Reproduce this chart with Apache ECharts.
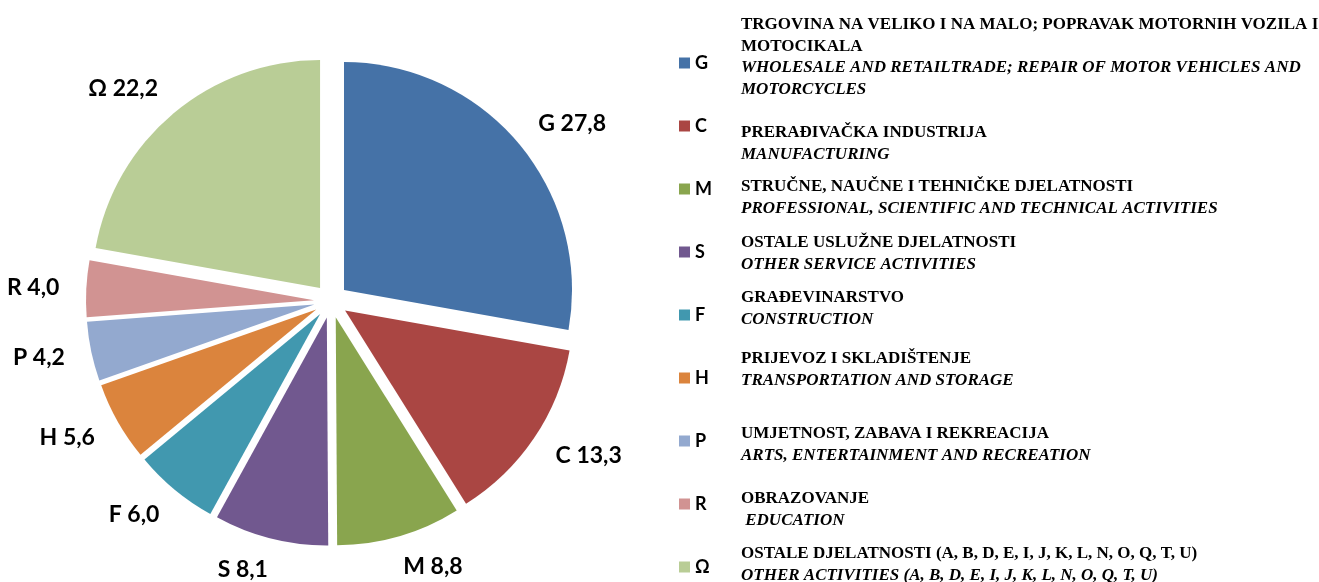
<!DOCTYPE html>
<html>
<head>
<meta charset="utf-8">
<script src="https://cdn.jsdelivr.net/npm/echarts@6/dist/echarts.min.js"></script>
<style>
  html, body { margin: 0; padding: 0; background: #fff; }
  #chart { width: 1319px; height: 582px; }
</style>
</head>
<body>
<div id="chart"></div>
<script>
  // djelatnosti (sifra) i udio u %
  var codes = ['G', 'C', 'M', 'S', 'F', 'H', 'P', 'R', 'Ω'];
  var values = [27.8, 13.3, 8.8, 8.1, 6.0, 5.6, 4.2, 4.0, 22.2];
  var colors = ['#4572A7', '#AA4643', '#89A54E', '#71588F', '#4198AF', '#DB843D', '#93A9CF', '#D19392', '#B9CD96'];
  var namesLocal = [
    'TRGOVINA NA VELIKO I NA MALO; POPRAVAK MOTORNIH VOZILA I\nMOTOCIKALA',
    'PRERAĐIVAČKA INDUSTRIJA',
    'STRUČNE, NAUČNE I TEHNIČKE DJELATNOSTI',
    'OSTALE USLUŽNE DJELATNOSTI',
    'GRAĐEVINARSTVO',
    'PRIJEVOZ I SKLADIŠTENJE',
    'UMJETNOST, ZABAVA I REKREACIJA',
    'OBRAZOVANJE',
    'OSTALE DJELATNOSTI (A, B, D, E, I, J, K, L, N, O, Q, T, U)'
  ];
  var namesEn = [
    'WHOLESALE AND RETAILTRADE; REPAIR OF MOTOR VEHICLES AND\nMOTORCYCLES',
    'MANUFACTURING',
    'PROFESSIONAL, SCIENTIFIC AND TECHNICAL ACTIVITIES',
    'OTHER SERVICE ACTIVITIES',
    'CONSTRUCTION',
    'TRANSPORTATION AND STORAGE',
    'ARTS, ENTERTAINMENT AND RECREATION',
    ' EDUCATION',
    'OTHER ACTIVITIES (A, B, D, E, I, J, K, L, N, O, Q, T, U)'
  ];
  var descTop = [16, 124, 178, 234, 289, 350, 425, 490, 545];

  var chart = echarts.init(document.getElementById('chart'));

  var pieData = codes.map(function (c, i) {
    return {name: c, value: values[i], selected: true, itemStyle: {color: colors[i]}};
  });

  function fmt(p) {
    return p.name + ' ' + p.value.toFixed(1).replace('.', ',');
  }

  var graphics = [];
  codes.forEach(function (c, i) {
    var loc = namesLocal[i].split('\n').map(function (s) { return '{a|' + s + '}'; });
    var en = namesEn[i].split('\n').map(function (s) { return '{b|' + s + '}'; });
    graphics.push({
      type: 'text',
      left: 741,
      top: descTop[i],
      silent: true,
      style: {
        text: loc.concat(en).join('\n'),
        fill: '#000',
        rich: {
          a: {fontFamily: 'Liberation Serif', fontWeight: 'bold', fontSize: 17, lineHeight: 21.7, fill: '#000'},
          b: {fontFamily: 'Liberation Serif', fontWeight: 'bold', fontStyle: 'italic', fontSize: 17, lineHeight: 21.7, fill: '#000'}
        }
      }
    });
  });

  var option = {
    animation: false,
    backgroundColor: '#fff',
    legend: {
      orient: 'vertical',
      left: 679,
      top: 54,
      padding: 0,
      icon: 'rect',
      itemWidth: 11,
      itemHeight: 11,
      itemGap: 45,
      selectedMode: false,
      data: codes.map(function (c, i) {
        return {name: c, itemStyle: {color: colors[i]}};
      }),
      textStyle: {fontFamily: 'Lato', fontWeight: 'bold', fontSize: 18, lineHeight: 17, color: '#000'}
    },
    graphic: graphics,
    series: [
      {
        type: 'pie',
        center: [331, 301],
        radius: 228,
        startAngle: 90,
        clockwise: true,
        selectedMode: 'multiple',
        selectedOffset: 17,
        avoidLabelOverlap: false,
        silent: true,
        emphasis: {disabled: true},
        select: {itemStyle: {borderWidth: 0}},
        label: {
          show: true,
          position: 'outside',
          formatter: fmt,
          distanceToLabelLine: -5,
          fontFamily: 'Lato',
          fontWeight: 'bold',
          fontSize: 23,
          color: '#000'
        },
        labelLine: {show: false, length: 32, length2: 0},
        data: pieData
      }
    ]
  };

  chart.setOption(option);
  window.addEventListener('resize', function () {
    chart.resize();
  });
</script>
</body>
</html>
